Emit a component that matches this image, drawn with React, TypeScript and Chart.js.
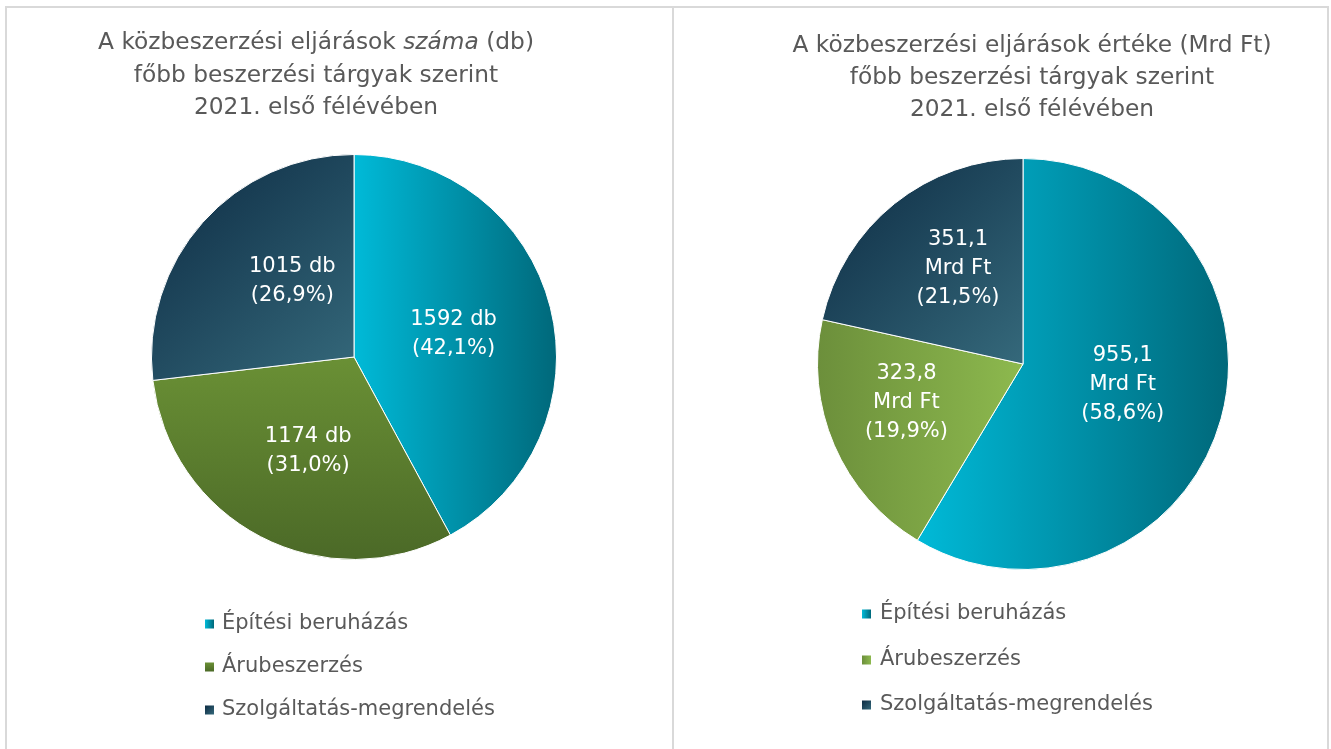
import React, { useEffect, useRef } from "react";
import { Chart, registerables } from "chart.js";

Chart.register(...registerables);

// ---------- data ----------
const categories = ["Építési beruházás", "Árubeszerzés", "Szolgáltatás-megrendelés"];
const countValues = [1592, 1174, 1015]; // db
const amountValues = [955.1, 323.8, 351.1]; // Mrd Ft
const countPercentLabels = ["42,1%", "31,0%", "26,9%"];
const amountPercentLabels = ["58,6%", "19,9%", "21,5%"];

type Seg = { t: string; i?: boolean };
const leftTitle: Seg[][] = [
  [{ t: "A közbeszerzési eljárások " }, { t: "száma", i: true }, { t: " (db)" }],
  [{ t: "főbb beszerzési tárgyak szerint" }],
  [{ t: "2021. első félévében" }],
];
const rightTitle: Seg[][] = [
  [{ t: "A közbeszerzési eljárások értéke (Mrd Ft)" }],
  [{ t: "főbb beszerzési tárgyak szerint" }],
  [{ t: "2021. első félévében" }],
];

const FONT = "'DejaVu Sans', sans-serif";
const TEXT = "#595959";
const TITLE_PX = 23.3;
const LEGEND_PX = 21;
const LABEL_PX = 21;

function setFont(c: CanvasRenderingContext2D, px: number, italic = false) {
  c.font = `${italic ? "italic " : ""}${px}px ${FONT}`;
}

type Grad = { dir: "h" | "hr" | "v" | "d"; stops: [number, string][] };
const cyanGrad: Grad = { dir: "h", stops: [[0, "#00bad8"], [1, "#00687a"]] };
const navyGrad: Grad = { dir: "d", stops: [[0, "#0c2a42"], [1, "#35697b"]] };
const greenGradLeft: Grad = { dir: "v", stops: [[0, "#6a9035"], [1, "#4b6927"]] };
const greenGradRight: Grad = { dir: "hr", stops: [[0, "#8db94e"], [1, "#6c8f3b"]] };

function makeGrad(c: CanvasRenderingContext2D, g: Grad, x0: number, y0: number, x1: number, y1: number) {
  let gr: CanvasGradient;
  if (g.dir === "h") gr = c.createLinearGradient(x0, 0, x1, 0);
  else if (g.dir === "hr") gr = c.createLinearGradient(x1, 0, x0, 0);
  else if (g.dir === "v") gr = c.createLinearGradient(0, y0, 0, y1);
  else gr = c.createLinearGradient(x0, y0, x1, y1);
  g.stops.forEach(([o, col]) => gr.addColorStop(o, col));
  return gr;
}

function sliceGradient(chart: any, idx: number, g: Grad) {
  const a = chart.chartArea;
  if (!a) return g.stops[0][1];
  const data = chart.data.datasets[0].data as number[];
  const total = data.reduce((s, v) => s + v, 0);
  let start = -Math.PI / 2;
  for (let i = 0; i < idx; i++) start += (data[i] / total) * Math.PI * 2;
  const end = start + (data[idx] / total) * Math.PI * 2;
  const cx = (a.left + a.right) / 2;
  const cy = (a.top + a.bottom) / 2;
  const R = Math.min(a.right - a.left, a.bottom - a.top) / 2;
  const pts: number[][] = [[cx, cy]];
  [start, end].forEach((ang) => pts.push([cx + Math.cos(ang) * R, cy + Math.sin(ang) * R]));
  for (let k = -4; k <= 8; k++) {
    const ang = (k * Math.PI) / 2;
    if (ang > start && ang < end) pts.push([cx + Math.cos(ang) * R, cy + Math.sin(ang) * R]);
  }
  const xs = pts.map((p) => p[0]);
  const ys = pts.map((p) => p[1]);
  return makeGrad(chart.ctx, g, Math.min(...xs), Math.min(...ys), Math.max(...xs), Math.max(...ys));
}

type PanelCfg = {
  values: number[];
  grads: Grad[];
  labelLines: (i: number) => string[];
  labelPlace: [number, number][]; // [radius factor, angle shift in degrees] per slice
  labelLineH: number;
  title: Seg[][];
  titleX: number;
  titleY: number[];
  legendSquareX: number;
  legendTextX: number;
  legendY: number[];
  padding: { left: number; right: number; top: number; bottom: number };
  left: number;
  top: number;
  width: number;
  height: number;
};

const fmt = (v: number) => v.toFixed(1).replace(".", ",");

const leftCfg: PanelCfg = {
  values: countValues,
  grads: [cyanGrad, greenGradLeft, navyGrad],
  labelLines: (i) => [`${countValues[i]} db`, `(${countPercentLabels[i]})`],
  labelPlace: [[0.505, 1], [0.517, -1.5], [0.485, 9.4]],
  labelLineH: 29,
  title: leftTitle,
  titleX: 309,
  titleY: [35, 68, 100],
  legendSquareX: 198,
  legendTextX: 215,
  legendY: [616, 659, 702],
  padding: { left: 144, right: 114, top: 146, bottom: 189 },
  left: 7,
  top: 8,
  width: 664,
  height: 741,
};

const rightCfg: PanelCfg = {
  values: amountValues,
  grads: [cyanGrad, greenGradRight, navyGrad],
  labelLines: (i) => [fmt(amountValues[i]), "Mrd Ft", `(${amountPercentLabels[i]})`],
  labelPlace: [[0.496, -3.6], [0.598, 4.8], [0.563, 4.6]],
  labelLineH: 29,
  title: rightTitle,
  titleX: 358,
  titleY: [38, 70, 102],
  legendSquareX: 188,
  legendTextX: 206,
  legendY: [606, 652, 697],
  padding: { left: 143, right: 98, top: 150, bottom: 179 },
  left: 674,
  top: 8,
  width: 653,
  height: 741,
};

function textPlugin(cfg: PanelCfg) {
  return {
    id: "panelText",
    afterDraw(chart: any) {
      const c: CanvasRenderingContext2D = chart.ctx;
      c.save();
      // title
      c.fillStyle = TEXT;
      c.textBaseline = "middle";
      cfg.title.forEach((line, li) => {
        let w = 0;
        line.forEach((s) => {
          setFont(c, TITLE_PX, !!s.i);
          w += c.measureText(s.t).width;
        });
        let x = cfg.titleX - w / 2;
        c.textAlign = "left";
        line.forEach((s) => {
          setFont(c, TITLE_PX, !!s.i);
          c.fillText(s.t, x, cfg.titleY[li]);
          x += c.measureText(s.t).width;
        });
      });
      // legend
      categories.forEach((cat, i) => {
        const y = cfg.legendY[i];
        const sx = cfg.legendSquareX;
        const sz = 9;
        c.fillStyle = makeGrad(c, cfg.grads[i], sx, y - sz / 2, sx + sz, y + sz / 2);
        c.fillRect(sx, y - sz / 2, sz, sz);
        c.fillStyle = TEXT;
        setFont(c, LEGEND_PX);
        c.textAlign = "left";
        c.fillText(cat, cfg.legendTextX, y);
      });
      // data labels
      const meta = chart.getDatasetMeta(0);
      c.fillStyle = "#ffffff";
      setFont(c, LABEL_PX);
      c.textAlign = "center";
      meta.data.forEach((arc: any, i: number) => {
        const [rf, shift] = cfg.labelPlace[i];
        const mid = (arc.startAngle + arc.endAngle) / 2 + (shift * Math.PI) / 180;
        const r = arc.outerRadius * rf;
        const x = arc.x + Math.cos(mid) * r;
        const y = arc.y + Math.sin(mid) * r;
        const lines = cfg.labelLines(i);
        const h = cfg.labelLineH;
        lines.forEach((ln, k) => {
          c.fillText(ln, x, y + (k - (lines.length - 1) / 2) * h);
        });
      });
      c.restore();
    },
  };
}

function PiePanel({ cfg }: { cfg: PanelCfg }) {
  const ref = useRef<HTMLCanvasElement | null>(null);
  useEffect(() => {
    if (!ref.current) return;
    const chart = new Chart(ref.current, {
      type: "pie",
      data: {
        labels: categories,
        datasets: [
          {
            data: cfg.values,
            backgroundColor: (ctx: any) => sliceGradient(ctx.chart, ctx.dataIndex, cfg.grads[ctx.dataIndex]),
            borderColor: "#ffffff",
            borderWidth: 1,
          },
        ],
      },
      options: {
        responsive: false,
        animation: false,
        devicePixelRatio: 1,
        rotation: 0,
        layout: { padding: cfg.padding },
        plugins: {
          legend: { display: false },
          title: { display: false },
          tooltip: { enabled: false },
        },
      },
      plugins: [textPlugin(cfg)],
    } as any);
    return () => chart.destroy();
  }, []);
  return (
    <canvas
      ref={ref}
      width={cfg.width}
      height={cfg.height}
      style={{ position: "absolute", left: cfg.left, top: cfg.top, width: cfg.width, height: cfg.height }}
    />
  );
}

export default function App() {
  const border = "2px solid #d9d9d9";
  return (
    <div style={{ position: "fixed", left: 0, top: 0, width: 1331, height: 749, overflow: "hidden", background: "#ffffff" }}>
      <div
        style={{
          position: "absolute",
          left: 5,
          top: 6,
          width: 669,
          height: 800,
          borderLeft: border,
          borderTop: border,
          borderRight: border,
          boxSizing: "border-box",
        }}
      />
      <div
        style={{
          position: "absolute",
          left: 672,
          top: 6,
          width: 657,
          height: 800,
          borderTop: border,
          borderRight: border,
          boxSizing: "border-box",
        }}
      />
      <PiePanel cfg={leftCfg} />
      <PiePanel cfg={rightCfg} />
    </div>
  );
}
